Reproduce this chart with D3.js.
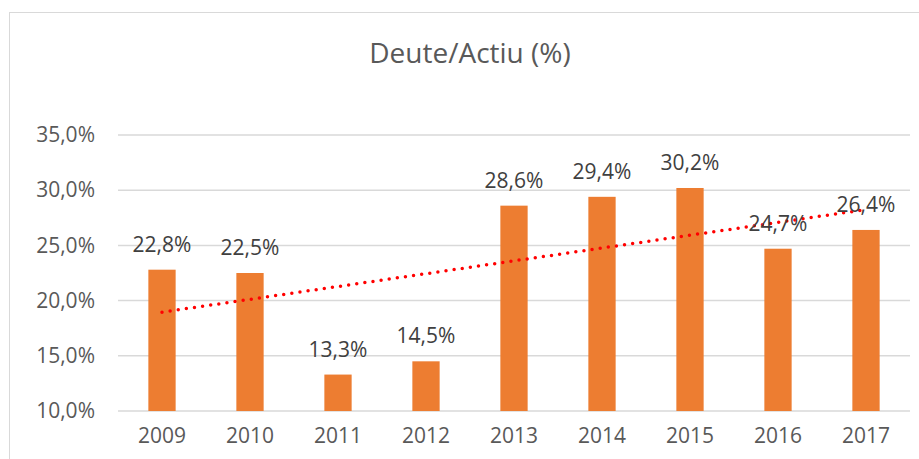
<!DOCTYPE html>
<html>
<head>
<meta charset="utf-8">
<script src="https://cdn.jsdelivr.net/npm/d3@7"></script>
<style>
  body { margin: 0; background: #fff; }
  svg { display: block; font-family: "Open Sans", "Noto Sans", sans-serif; }
</style>
</head>
<body>
<svg id="chart" width="919" height="459"></svg>
<script>
var years = ["2009", "2010", "2011", "2012", "2013", "2014", "2015", "2016", "2017"];
var values = [22.8, 22.5, 13.3, 14.5, 28.6, 29.4, 30.2, 24.7, 26.4];
var yTicks = [10, 15, 20, 25, 30, 35];
var title = "Deute/Actiu (%)";

var margin = { top: 135, right: 9, bottom: 48, left: 118 };
var width = 919, height = 459;

var svg = d3.select("#chart");

// chart area border (runs off the right and bottom of the picture)
svg.append("rect")
    .attr("x", 9.5).attr("y", 12.5)
    .attr("width", 940).attr("height", 480)
    .attr("fill", "none")
    .attr("stroke", "#d9d9d9");

var xScale = d3.scaleBand()
    .domain(years)
    .range([margin.left, width - margin.right])
    .paddingInner(0.69)
    .paddingOuter(0.345);

var yScale = d3.scaleLinear()
    .domain([10, 35])
    .range([height - margin.bottom, margin.top]);

var fmt = function(v) { return d3.format(".1f")(v).replace(".", ",") + "%"; };

svg.append("text")
    .attr("x", 470).attr("y", 63)
    .attr("text-anchor", "middle")
    .attr("font-size", 28)
    .attr("fill", "#595959")
    .text(title);

// gridlines
svg.append("g").selectAll("line")
    .data(yTicks)
    .join("line")
    .attr("x1", margin.left).attr("x2", width - margin.right)
    .attr("y1", function(d) { return yScale(d); })
    .attr("y2", function(d) { return yScale(d); })
    .attr("stroke", "#d9d9d9")
    .attr("stroke-width", 1.5);

var yAxis = d3.axisLeft(yScale).tickValues(yTicks).tickFormat(fmt).tickSize(0).tickPadding(23);
svg.append("g")
    .attr("transform", "translate(" + margin.left + ",0)")
    .call(yAxis)
    .call(function(g) { g.select(".domain").remove(); })
    .selectAll("text")
    .attr("font-size", 21)
    .attr("font-family", "Open Sans")
    .attr("fill", "#595959");

var xAxis = d3.axisBottom(xScale).tickSize(0).tickPadding(17);
svg.append("g")
    .attr("transform", "translate(0," + yScale(10) + ")")
    .call(xAxis)
    .call(function(g) { g.select(".domain").remove(); })
    .selectAll("text")
    .attr("font-size", 21)
    .attr("font-family", "Open Sans")
    .attr("fill", "#595959");

// bars
svg.append("g").selectAll("rect")
    .data(values)
    .join("rect")
    .attr("x", function(d, i) { return xScale(years[i]); })
    .attr("width", xScale.bandwidth())
    .attr("y", function(d) { return yScale(d); })
    .attr("height", function(d) { return yScale(10) - yScale(d); })
    .attr("fill", "#ed7d31");

// linear trend (least squares over the values)
var n = values.length;
var mx = d3.mean(values, function(d, i) { return i; });
var my = d3.mean(values);
var slope = d3.sum(values, function(d, i) { return (i - mx) * (d - my); }) /
    d3.sum(values, function(d, i) { return (i - mx) * (i - mx); });
var icpt = my - slope * mx;
var cx = function(i) { return xScale(years[i]) + xScale.bandwidth() / 2; };

svg.append("line")
    .attr("x1", cx(0)).attr("y1", yScale(icpt))
    .attr("x2", cx(n - 1)).attr("y2", yScale(icpt + slope * (n - 1)))
    .attr("stroke", "#ff0000")
    .attr("stroke-width", 3.5)
    .attr("stroke-linecap", "round")
    .attr("stroke-dasharray", "0,8.2");

// data labels
svg.append("g").selectAll("text")
    .data(values)
    .join("text")
    .attr("x", function(d, i) { return cx(i); })
    .attr("y", function(d) { return yScale(d) - 18; })
    .attr("text-anchor", "middle")
    .attr("font-size", 21)
    .attr("fill", "#404040")
    .text(fmt);
</script>
</body>
</html>
